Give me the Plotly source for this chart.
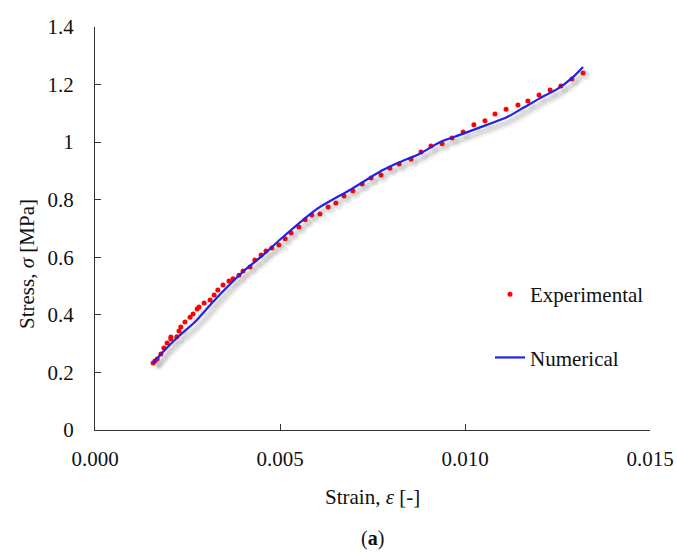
import plotly.graph_objects as go

# Experimental stress-strain measurements
exp_strain = [0.00157, 0.00162, 0.00168, 0.00178, 0.00186, 0.00195, 0.00205, 0.00205,
              0.00221, 0.00227, 0.00232, 0.00243, 0.00257, 0.00265, 0.00276, 0.00281,
              0.00295, 0.00311, 0.00322, 0.00332, 0.00346, 0.00362, 0.00373, 0.00389,
              0.00400, 0.00419, 0.00432, 0.00449, 0.00462, 0.00478, 0.00497, 0.00514,
              0.00530, 0.00551, 0.00568, 0.00586, 0.00608, 0.00630, 0.00651, 0.00673,
              0.00697, 0.00722, 0.00746, 0.00773, 0.00797, 0.00822, 0.00854, 0.00881,
              0.00908, 0.00938, 0.00965, 0.00995, 0.01024, 0.01054, 0.01081, 0.01111,
              0.01143, 0.01170, 0.01200, 0.01230, 0.01259, 0.01289, 0.01319]
exp_stress = [0.233, 0.240, 0.247, 0.264, 0.285, 0.302, 0.323, 0.316,
              0.324, 0.344, 0.358, 0.375, 0.392, 0.403, 0.420, 0.427,
              0.441, 0.452, 0.469, 0.486, 0.504, 0.518, 0.525, 0.538,
              0.552, 0.566, 0.591, 0.608, 0.622, 0.632, 0.643, 0.664,
              0.684, 0.705, 0.730, 0.747, 0.750, 0.775, 0.789, 0.813,
              0.830, 0.855, 0.875, 0.886, 0.909, 0.924, 0.941, 0.966,
              0.987, 0.994, 1.014, 1.035, 1.060, 1.074, 1.098, 1.114,
              1.129, 1.143, 1.164, 1.181, 1.195, 1.219, 1.240]

# Numerical model prediction
num_strain = [0.00157, 0.00190, 0.00224, 0.00270, 0.00316, 0.00360, 0.00405, 0.00451,
              0.00505, 0.00600, 0.00689, 0.00778, 0.00824, 0.00878, 0.00932, 0.00990,
              0.01059, 0.01114, 0.01160, 0.01203, 0.01249, 0.01292, 0.01319]
num_stress = [0.233, 0.280, 0.323, 0.375, 0.441, 0.500, 0.556, 0.604,
              0.667, 0.768, 0.834, 0.903, 0.931, 0.960, 1.000, 1.027,
              1.060, 1.087, 1.121, 1.153, 1.184, 1.226, 1.261]

x_ticks = [0.000, 0.005, 0.010, 0.015]
x_tick_text = ["0.000", "0.005", "0.010", "0.015"]
y_ticks = [0, 0.2, 0.4, 0.6, 0.8, 1.0, 1.2, 1.4]
y_tick_text = ["0", "0.2", "0.4", "0.6", "0.8", "1", "1.2", "1.4"]

FONT = "Liberation Serif"
W, H = 677, 556
L, R, T, B = 95, 23, 27, 122
pw, ph = W - L - R, H - T - B
sx, sy = 4 / pw, 4 / ph  # drop-shadow offset in domain units

fig = go.Figure()

# soft drop shadow drawn on an offset copy of the axes
for width, op in [(10, 0.08), (5, 0.14)]:
    fig.add_trace(go.Scatter(x=num_strain, y=num_stress, mode="lines",
                             line=dict(color=f"rgba(90,90,90,{op})", width=width,
                                       shape="spline", smoothing=0.6),
                             xaxis="x2", yaxis="y2", showlegend=False, hoverinfo="skip"))
fig.add_trace(go.Scatter(x=exp_strain, y=exp_stress, mode="markers",
                         marker=dict(color="rgba(90,90,90,0.08)", size=7),
                         xaxis="x2", yaxis="y2", showlegend=False, hoverinfo="skip"))

fig.add_trace(go.Scatter(x=exp_strain, y=exp_stress, mode="markers", name="Experimental",
                         marker=dict(color="#FF0000", size=5), legendgroup="a"))
fig.add_trace(go.Scatter(x=num_strain, y=num_stress, mode="lines", name="Numerical",
                         line=dict(color="#2020F0", width=2.2, shape="spline", smoothing=0.6),
                         legendgroup="b"))

axis_common = dict(showgrid=False, zeroline=False, automargin=False)
fig.update_layout(
    width=W, height=H,
    margin=dict(l=L, r=R, t=T, b=B, autoexpand=False),
    paper_bgcolor="white", plot_bgcolor="rgba(0,0,0,0)",
    font=dict(family=FONT, size=21, color="#111"),
    xaxis=dict(domain=[0, 1 - sx], range=[0, 0.015], tickvals=x_ticks, ticktext=x_tick_text,
               ticks="inside", ticklen=6, tickcolor="#333", showline=True, linecolor="#333",
               linewidth=1.3, ticklabelstandoff=10, **axis_common),
    yaxis=dict(domain=[sy, 1], range=[0, 1.4], tickvals=y_ticks, ticktext=y_tick_text,
               ticks="inside", ticklen=6, tickcolor="#333", showline=True, linecolor="#333",
               linewidth=1.3, ticklabelstandoff=16, **axis_common),
    xaxis2=dict(domain=[sx, 1], range=[0, 0.015], visible=False, anchor="y2", **axis_common),
    yaxis2=dict(domain=[0, 1 - sy], range=[0, 1.4], visible=False, anchor="x2", **axis_common),
    legend=dict(x=(490 - L) / pw, y=1 - (274 - T) / ph, xanchor="left", yanchor="top",
                bgcolor="rgba(0,0,0,0)", font=dict(family=FONT, size=21),
                tracegroupgap=33, itemwidth=30),
    annotations=[
        dict(text="Strain, <i>ε</i> [-]", xref="paper", yref="paper",
             x=(1 - sx) / 2, y=-(497 - (H - B)) / ph, xanchor="center", yanchor="middle",
             showarrow=False, font=dict(family=FONT, size=21)),
        dict(text="(<b>a</b>)", xref="paper", yref="paper",
             x=(1 - sx) / 2, y=-(538 - (H - B)) / ph, xanchor="center", yanchor="middle",
             showarrow=False, font=dict(family=FONT, size=20)),
        dict(text="Stress, <i>σ</i> [MPa]", xref="paper", yref="paper", textangle=-90,
             x=(27 - L) / pw, y=(H - B - 264) / ph, xanchor="center", yanchor="middle",
             showarrow=False, font=dict(family=FONT, size=21)),
    ],
)

fig.write_html("out.html")
